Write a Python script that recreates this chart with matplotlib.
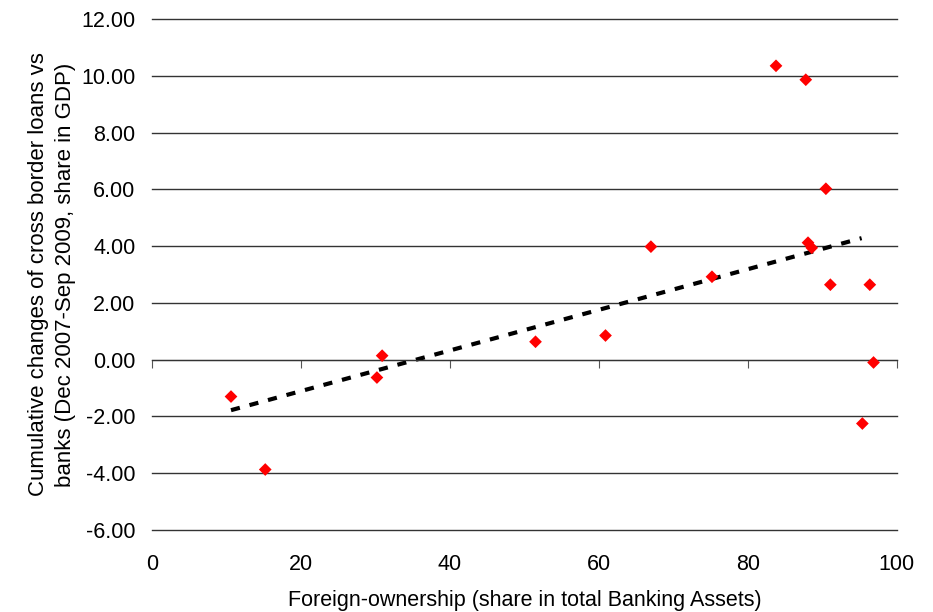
import numpy as np
import matplotlib
matplotlib.use('Agg')
import matplotlib.pyplot as plt

# ============================================================================
# DATA
# ============================================================================

foreign_share = [10.6, 15.2, 30.2, 30.9, 51.5, 60.9, 67.0, 75.2, 83.8, 87.8,
                 88.1, 88.6, 90.5, 91.1, 96.4, 95.4, 96.9]
loan_change   = [-1.30, -3.87, -0.63, 0.14, 0.63, 0.85, 3.98, 2.92, 10.35, 9.86,
                 4.12, 3.94, 6.02, 2.64, 2.64, -2.25, -0.10]

trend_x = [10.6, 95.3]
trend_y = [-1.78, 4.28]

x_ticks = [0, 20, 40, 60, 80, 100]
y_ticks = [-6, -4, -2, 0, 2, 4, 6, 8, 10, 12]

# ============================================================================
# PLOT
# ============================================================================

plt.rcParams['font.family'] = ['Liberation Sans', 'DejaVu Sans']
FS = 15.5

fig = plt.figure(figsize=(9.33, 6.12), dpi=100)
ax = fig.add_axes([0.163, 0.134, 0.798, 0.835])

for yv in y_ticks:
    ax.axhline(yv, color='#333333', lw=1.0, zorder=1, clip_on=False)

ax.plot(trend_x, trend_y, color='black', lw=3, linestyle=(0, (2.2, 2.4)), zorder=2)
ax.scatter(foreign_share, loan_change, marker='D', s=42, color='#ff0000',
           edgecolors='none', zorder=3)

ax.set_xlim(0, 100)
ax.set_ylim(-6, 12)
ax.set_xticks(x_ticks)
ax.set_yticks(y_ticks)
ax.set_yticklabels([f'{v:.2f}' for v in y_ticks])

for s in ['top', 'right', 'left']:
    ax.spines[s].set_visible(False)
# x axis crosses at y = 0, labels stay at bottom
ax.spines['bottom'].set_position(('data', 0))
ax.spines['bottom'].set_color('#333333')
ax.tick_params(axis='x', direction='out', length=6, color='#555555', pad=4)
ax.tick_params(axis='y', length=0, labelsize=FS, pad=12)

# x tick labels below the plot area
trans = ax.get_xaxis_transform()
ax.set_xticklabels([])
for xv in x_ticks:
    ax.text(xv, -0.047, str(xv), transform=trans, ha='center', va='top', fontsize=FS)

ax.text(0.5, -0.118, 'Foreign-ownership (share in total Banking Assets)',
        transform=ax.transAxes, ha='center', va='top', fontsize=FS)
ax.set_ylabel('Cumulative changes of cross border loans vs\n'
              'banks (Dec 2007-Sep 2009, share in GDP)', fontsize=16, labelpad=4,
              linespacing=1.38)

fig.savefig('out.png', dpi=100)
